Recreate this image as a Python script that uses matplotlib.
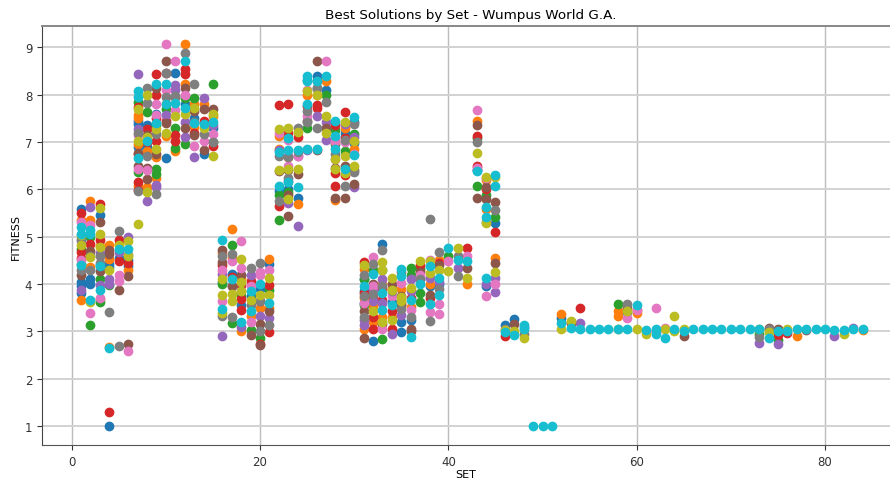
import matplotlib
matplotlib.use('Agg')
from matplotlib import pyplot as plt

# fitness values per set, one dict for each colour of the cycle
blue = {1: [5.58, 4.04, 3.95, 3.81], 2: [4.11, 4.0], 3: [5.45, 4.4], 4: [4.43, 4.35, 1.0], 5: [4.55], 6: [4.39, 4.5],
        7: [7.38, 7.45, 6.9], 8: [7.35, 6.9], 9: [7.6], 10: [6.66], 11: [8.46], 12: [7.8], 13: [7.5], 14: [6.75],
        15: [7.3], 16: [4.05], 17: [4.22], 18: [3.55, 4.2], 19: [3.75], 20: [3.9], 21: [4.43], 22: [5.97],
        23: [6.0], 24: [5.82], 25: [8.3], 26: [8.39], 27: [8.1], 28: [6.95], 29: [7.2], 30: [7.43, 6.97],
        31: [3.85, 4.1, 3.6], 32: [2.8], 33: [4.85], 34: [3.61], 35: [2.99, 3.2], 36: [3.25], 37: [4.1], 38: [3.95], 39: [4.0],
        43: [6.4], 44: [3.95], 45: [5.28], 46: [3.13], 47: [3.27], 48: [3.1], 52: [3.28], 59: [3.4]}
orange = {1: [3.67, 5.35], 2: [5.75, 5.35, 4.36], 3: [3.68, 4.8], 4: [4.82, 4.53, 2.68], 5: [4.84], 6: [4.29],
          7: [7.56, 7.5, 6.95, 6.08], 8: [6.82, 6.04], 9: [6.68, 6.25], 10: [7.13, 7.8], 11: [6.82], 12: [9.06, 8.23],
          13: [7.8, 7.31], 14: [7.8], 15: [7.55], 16: [4.65], 17: [5.16, 4.55], 18: [4.11, 3.0], 19: [3.32],
          20: [3.5], 21: [4.53, 3.5], 22: [7.13, 6.85], 23: [6.68], 24: [5.68], 25: [7.99], 26: [8.0], 27: [8.29],
          28: [5.77, 7.0], 29: [7.3], 30: [6.85], 31: [4.31, 3.7, 3.04], 32: [3.54, 3.2], 33: [4.0, 3.3], 34: [3.9, 3.3],
          35: [3.9], 36: [3.51], 37: [4.3], 38: [4.0], 39: [4.5], 42: [4.0], 43: [7.44], 44: [5.59, 6.2], 45: [4.55],
          52: [3.36], 58: [3.43, 3.32], 60: [3.38, 3.45], 75: [2.98], 77: [2.9], 84: [3.02]}
green = {1: [4.43, 4.75], 2: [5.0, 3.13], 3: [4.11, 3.62], 4: [3.98], 7: [7.85, 6.36], 8: [7.63], 9: [6.43, 6.32, 7.35],
         10: [7.7], 11: [6.87, 7.3], 12: [7.93, 6.95], 13: [7.93], 14: [7.4], 15: [8.23, 7.0], 16: [4.0], 17: [4.82, 3.18],
         18: [3.75], 19: [3.03], 20: [2.85], 21: [3.87], 22: [5.87, 5.35], 23: [5.95], 25: [7.3], 26: [8.13], 27: [7.99],
         28: [7.25], 29: [6.8], 30: [7.16], 31: [3.56, 4.1], 32: [4.3], 33: [4.3, 2.83], 36: [4.34, 4.2],
         37: [4.34, 3.81, 3.61], 40: [4.6], 43: [7.09, 6.08], 44: [5.87], 45: [5.42], 58: [3.57], 73: [2.95], 75: [2.82]}
red = {1: [5.5, 4.67, 4.55], 2: [4.85], 3: [5.7, 4.92], 4: [1.29], 5: [4.92, 4.48], 6: [4.45], 7: [7.74, 6.15, 5.98, 6.75],
       8: [7.28, 7.0], 9: [8.44, 8.0, 7.03, 7.5], 10: [8.46, 7.45], 11: [7.14, 7.03], 12: [8.55, 8.44], 13: [7.2],
       14: [7.45], 15: [6.92], 16: [4.4], 17: [4.15], 18: [3.97, 3.69, 3.45], 19: [4.07], 20: [3.65, 2.74], 21: [3.99, 2.99],
       22: [7.79, 5.65], 23: [7.8, 7.2], 24: [7.1], 25: [7.75], 26: [7.79, 7.71], 28: [7.36, 6.35, 6.08], 29: [7.64, 7.09, 6.3],
       31: [4.46, 3.8], 32: [3.04, 3.75, 3.3], 33: [3.92, 3.67], 34: [3.44, 3.04], 35: [3.6], 36: [3.7], 37: [4.4], 38: [3.7],
       39: [4.45], 42: [4.76], 43: [7.13, 6.5], 44: [6.0], 45: [5.1], 46: [2.9], 53: [3.18], 54: [3.5], 62: [3.0],
       75: [2.93], 76: [2.97]}
purple = {1: [3.88, 4.9], 2: [5.62], 3: [3.97, 4.65], 4: [4.11, 4.0], 5: [4.67], 6: [4.99], 7: [8.44, 7.28], 8: [5.76],
          9: [6.04, 6.1], 10: [7.57], 11: [8.2, 8.1], 12: [7.42, 7.1], 13: [6.68], 14: [7.93], 15: [7.35], 16: [4.22, 2.91],
          17: [3.95], 18: [3.09], 19: [4.2], 20: [3.33], 21: [3.28], 22: [6.83], 23: [6.17, 5.71, 6.7], 24: [5.22, 6.7],
          25: [6.83], 26: [7.55], 27: [7.43, 7.04], 28: [7.1], 29: [7.38], 30: [7.1, 6.04], 31: [3.13, 3.25], 32: [3.9, 3.65], 33: [4.11, 3.6],
          34: [2.94], 35: [3.35], 36: [4.1, 3.85], 37: [4.15], 38: [4.12], 39: [4.05], 41: [4.34], 43: [6.4], 44: [4.0], 45: [4.12, 3.83],
          54: [3.18], 73: [2.76], 75: [2.73], 81: [2.9], 83: [3.08]}
brown = {1: [4.2], 2: [4.7], 3: [5.3, 4.27], 4: [4.71, 4.64], 5: [3.88], 6: [4.18, 2.73], 7: [6.77, 6.5], 8: [7.15, 6.46, 6.22],
         9: [8.15, 6.75], 10: [8.71, 7.4], 11: [7.95], 12: [8.15, 7.3], 13: [7.65, 7.14], 14: [7.69, 6.84], 15: [7.69], 16: [4.71, 4.46],
         17: [3.95], 18: [4.2], 19: [2.92], 20: [3.16, 2.72], 21: [3.44], 22: [6.38], 23: [5.89, 5.43, 6.4], 24: [6.33], 25: [7.45],
         26: [8.72, 6.83], 27: [7.3], 28: [6.45, 5.82], 29: [6.5, 5.82], 30: [6.4, 6.11], 31: [3.42, 2.87], 32: [4.0], 33: [3.15],
         34: [4.0], 35: [3.75, 3.55], 36: [3.05, 3.0], 37: [4.25], 38: [3.76], 39: [4.4], 42: [4.34], 43: [7.36, 5.82], 44: [6.04, 5.8], 45: [5.73, 4.44],
         47: [3.15], 53: [3.2], 59: [3.5], 65: [2.9], 74: [3.08], 75: [3.05], 78: [3.02]}
pink = {1: [5.3, 4.5], 2: [3.38, 5.25], 3: [3.71], 5: [4.19, 4.06], 6: [2.58], 7: [7.14, 6.43], 8: [6.41], 9: [7.8, 7.56], 10: [9.06, 8.09],
        11: [8.71, 7.67], 12: [8.0], 13: [6.91], 14: [7.02], 15: [7.17], 16: [3.64, 4.3], 17: [4.48], 18: [4.9, 4.34], 19: [3.19, 3.95],
        20: [4.25, 4.2], 21: [4.29], 22: [7.18], 23: [7.05, 6.5], 24: [6.7], 25: [8.1, 7.55], 27: [8.72], 28: [7.03, 6.65], 29: [7.0],
        30: [6.75], 31: [3.6], 32: [4.57, 3.95], 33: [3.06], 34: [3.74], 35: [4.02], 36: [3.45], 37: [4.2], 38: [4.5, 3.4], 39: [3.58, 3.36],
        40: [4.48], 42: [4.6], 43: [7.68, 6.45], 44: [6.23, 3.74], 45: [4.0], 59: [3.29], 60: [3.46], 62: [3.5, 2.98], 63: [3.08]}
gray = {1: [4.29, 4.95], 2: [4.6, 4.29], 3: [4.6, 4.45], 4: [3.4], 5: [5.11, 2.7], 6: [4.62], 7: [5.97, 7.2], 8: [8.14, 7.83, 6.71], 9: [7.17, 5.9],
        10: [8.46, 7.95], 11: [7.97], 12: [8.87], 13: [8.23, 7.42], 14: [7.17], 15: [7.0], 16: [3.33, 4.6], 17: [4.64, 3.3], 18: [3.85],
        19: [4.34, 3.55], 20: [4.44, 3.65, 3.0], 21: [3.14], 22: [5.75, 6.7], 23: [6.69, 6.25], 24: [7.3, 6.79], 25: [7.65, 7.43], 26: [8.29, 7.29, 8.15],
        27: [7.84], 28: [6.74], 29: [7.04, 6.08], 30: [7.37, 6.37], 31: [4.2, 3.3, 3.75], 32: [3.79, 4.42], 33: [4.71, 3.95], 34: [3.85], 35: [3.47, 4.25], 36: [3.3],
        37: [4.1], 38: [5.38, 3.21], 39: [4.67, 3.9], 41: [4.6, 4.17], 43: [7.0], 44: [5.31], 45: [5.56], 46: [3.05], 48: [2.95], 59: [3.57],
        73: [2.88], 74: [3.05]}
olive = {1: [5.04, 4.82], 2: [4.57, 3.62], 3: [5.6, 5.05, 4.78], 4: [4.29], 5: [4.82], 6: [4.9, 4.6], 7: [5.27, 7.69, 7.03], 8: [8.0, 7.1, 5.95], 9: [7.28, 6.85],
         10: [7.18], 11: [7.54], 12: [7.6], 13: [7.71], 14: [7.3], 15: [6.7, 7.6], 16: [4.11, 3.77, 3.38], 17: [3.79, 3.65], 18: [4.52, 3.85, 4.05], 19: [3.67],
         20: [3.77], 21: [4.12, 3.76], 22: [7.28, 6.4], 23: [7.3, 6.42, 5.8], 24: [7.21, 6.42], 25: [8.07], 26: [7.99], 27: [7.55, 7.2], 28: [6.44, 6.65],
         29: [7.43, 6.71, 6.35], 30: [7.02, 6.5], 31: [4.41], 32: [3.42], 33: [4.46, 4.29, 3.19], 34: [4.13, 3.88, 3.23], 35: [3.72, 3.65], 36: [3.92], 37: [4.48],
         38: [4.24, 4.48], 39: [4.29], 40: [4.27], 41: [4.76], 42: [4.13], 43: [6.76], 44: [5.28, 6.26], 45: [6.26, 4.25], 46: [3.02], 47: [3.0], 48: [2.87], 52: [3.06],
         53: [3.22], 58: [3.05], 59: [3.43], 60: [3.06], 61: [2.94], 63: [3.05], 64: [3.32, 3.0], 65: [3.05], 73: [3.04], 74: [2.99], 76: [3.05], 82: [2.95]}
cyan = {1: [5.2, 5.05, 4.4], 2: [5.15, 5.06, 3.66], 3: [4.39, 3.88], 4: [2.64], 5: [4.73], 6: [4.73], 7: [8.07, 7.95, 6.66], 8: [7.02], 9: [8.23, 7.4], 10: [8.23, 7.8],
        11: [7.82], 12: [8.71, 7.71], 13: [7.4], 14: [7.38], 15: [7.42], 16: [4.94, 3.47], 17: [4.1], 18: [3.19], 19: [3.85, 3.44], 20: [4.0], 21: [3.6], 22: [6.78, 6.08],
        23: [7.09, 6.83, 6.15], 24: [6.05, 6.83], 25: [8.39, 8.29, 7.81, 6.86], 26: [6.86, 8.28], 27: [8.39], 28: [7.44, 7.13, 6.85], 29: [6.44], 30: [7.53, 6.72], 31: [3.95], 32: [4.22],
        33: [3.8, 3.45], 34: [3.55], 35: [4.32, 4.18], 36: [3.67, 2.89], 37: [4.0], 38: [4.38, 3.57], 39: [4.12, 3.76], 40: [4.76], 41: [4.5], 42: [4.48], 43: [6.39], 44: [5.63, 5.41, 4.12],
        45: [6.3, 6.07], 46: [2.99], 47: [2.92], 48: [3.13, 3.04], 49: [1.0], 50: [1.0], 51: [1.0], 52: [3.18], 53: [3.08], 54: [3.06], 55: [3.06], 56: [3.06], 57: [3.06], 58: [3.06],
        59: [3.06], 60: [3.56], 61: [3.03], 62: [3.04, 2.94], 63: [2.87], 64: [3.05], 65: [3.01], 66: [3.05], 67: [3.05], 68: [3.05], 69: [3.05], 70: [3.05], 71: [3.05], 72: [3.05],
        73: [3.04], 74: [2.87], 75: [3.0], 76: [3.0], 77: [3.04], 78: [3.04], 79: [3.05], 80: [3.05], 81: [3.03], 82: [3.03], 83: [3.05], 84: [3.05]}

series = [blue, orange, green, red, purple, brown, pink, gray, olive, cyan]

fig = plt.figure(figsize=(8.9, 4.81), dpi=100)
ax = fig.add_axes([42 / 890, 1 - 446 / 481, 1 - 42 / 890, (446 - 27) / 481])

for i, s in enumerate(series):
    xs = [k for k in s for v in s[k]]
    ys = [v for k in s for v in s[k]]
    ax.scatter(xs, ys, color='C%d' % i, s=36, zorder=3)

ax.set_xlim(-3.15, 86.9)
ax.set_ylim(0.6, 9.45)
ax.set_xticks([0, 20, 40, 60, 80])
ax.set_yticks(range(1, 10))
# verticais mais finas que as horizontais
ax.xaxis.grid(True, color='#bcbcbc', linewidth=1.0)
ax.yaxis.grid(True, color='#d2d2d2', linewidth=1.4)
ax.set_axisbelow(True)
ax.spines['left'].set_color('#444444')
ax.spines['bottom'].set_color('#555555')
ax.spines['top'].set_color('#888888')
ax.spines['top'].set_linewidth(1.4)
ax.spines['right'].set_visible(False)
ax.tick_params(labelsize=8.5, colors='#333333', pad=3.5)
ax.set_title('Best Solutions by Set - Wumpus World G.A.', fontsize=9.7, x=0.506, pad=6)
ax.set_xlabel('SET', fontsize=8, labelpad=1)
ax.set_ylabel('FITNESS', fontsize=8, labelpad=3)

plt.savefig('out.png', dpi=100)
